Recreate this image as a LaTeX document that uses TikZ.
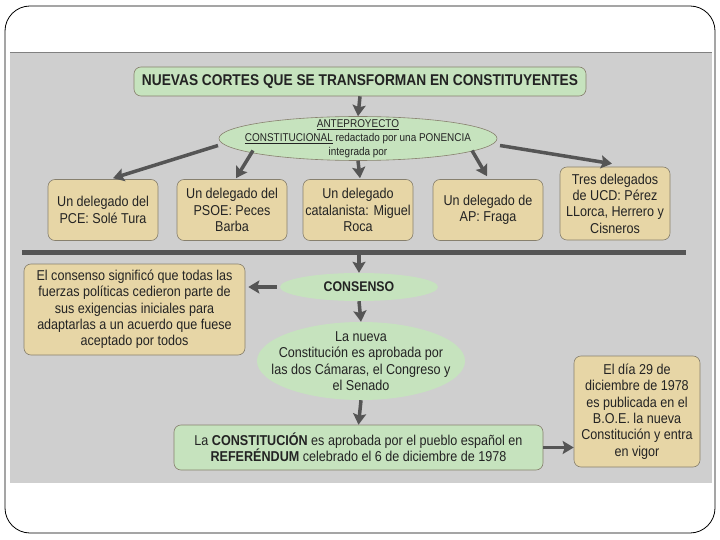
\documentclass[tikz,border=0pt]{standalone}
\usepackage{fontspec}
\setmainfont{Liberation Sans}[FakeStretch=0.88]
\usetikzlibrary{shapes.geometric,arrows.meta,calc}
\definecolor{bgray}{RGB}{207,207,207}
\definecolor{lgreen}{RGB}{198,227,190}
\definecolor{tan}{RGB}{231,214,166}
\definecolor{bordc}{RGB}{135,128,110}
\definecolor{arrc}{RGB}{85,85,85}
\definecolor{txtc}{RGB}{35,35,35}
\tikzset{
  arr/.style={draw=arrc, line width=3.5pt, -{Stealth[length=11pt,width=13pt,inset=2pt]}},
  gbox/.style={rectangle, rounded corners=7pt, fill=lgreen, draw=bordc, line width=0.6pt, align=center, inner sep=0pt, text=txtc},
  tbox/.style={rectangle, rounded corners=7pt, fill=tan, draw=bordc, line width=0.6pt, align=center, inner sep=0pt, minimum width=110pt, minimum height=61pt, text=txtc},
  gell/.style={ellipse, fill=lgreen, align=center, inner xsep=-60pt, inner ysep=-12pt, text=txtc},
  txt/.style={font=\fontsize{14.3}{16.3}\selectfont}
}
\begin{document}
\begin{tikzpicture}[x=1pt,y=-1pt]
\useasboundingbox (0,0) rectangle (720,540);
\fill[white] (0,0) rectangle (720,540);
\draw[black, line width=0.8pt, rounded corners=25pt] (5,6) rectangle (715,533);
\fill[bgray] (10,52) rectangle (712,483);
\draw[gray, line width=0.6pt] (10,52) -- (712,52);

\node[gbox, minimum width=452pt, minimum height=29pt, font=\fontsize{15.6}{18}\selectfont\bfseries] (title) at (360,81.5) {NUEVAS CORTES QUE SE TRANSFORMAN EN CONSTITUYENTES};
\node[gell, draw=bordc, line width=0.6pt, minimum width=278pt, minimum height=44pt, font=\fontsize{11.3}{14}\selectfont] (ell1) at (358,138.5) {\underline{ANTEPROYECTO}\\\underline{CONSTITUCIONAL} redactado por una PONENCIA\\integrada por};

\node[tbox, txt] (b1) at (103,210) {Un delegado del\\PCE: Solé Tura};
\node[tbox, txt] (b2) at (232,210) {Un delegado del\\PSOE: Peces\\Barba};
\node[tbox, txt] (b3) at (358,210) {Un delegado\\catalanista: Miguel\\Roca};
\node[tbox, txt] (b4) at (488,210) {Un delegado de\\AP: Fraga};
\node[tbox, txt, minimum height=73pt] (b5) at (615,203.5) {Tres delegados\\de UCD: Pérez\\LLorca, Herrero y\\Cisneros};

\draw[arr] (title.south) -- (ell1.north);
\draw[arr] ($(ell1.center)+(-140,7)$) -- ($(b1.north)+(10,-1)$);
\draw[arr] ($(ell1.center)+(-105,12)$) -- ($(b2.north)+(4,-1)$);
\draw[arr] (ell1.south) -- ($(b3.north)+(2,-1)$);
\draw[arr] ($(ell1.center)+(114,12)$) -- ($(b4.north)+(-1,-3)$);
\draw[arr] ($(ell1.center)+(142,7)$) -- ($(b5.north)+(-3,-3)$);

\coordinate (sepL) at (22,252);
\coordinate (sepR) at (686,252);
\draw[arrc, line width=5pt] (sepL) -- (sepR);

\node[gell, minimum width=158pt, minimum height=28pt, font=\fontsize{14}{16}\selectfont\bfseries] (cons) at (359,287) {CONSENSO};
\node[tbox, txt, minimum width=221pt, minimum height=91pt] (left) at (134.5,309.5) {El consenso significó que todas las\\fuerzas políticas cedieron parte de\\sus exigencias iniciales para\\adaptarlas a un acuerdo que fuese\\aceptado por todos};
\node[gell, txt, minimum width=208pt, minimum height=78pt] (ell2) at (361,361) {La nueva\\Constitución es aprobada por\\las dos Cámaras, el Congreso y\\el Senado};
\node[gbox, txt, minimum width=369pt, minimum height=45pt] (bot) at (358.5,447.5) {La \textbf{CONSTITUCIÓN} es aprobada por el pueblo español en\\\textbf{REFERÉNDUM} celebrado el 6 de diciembre de 1978};
\node[tbox, txt, minimum width=126pt, minimum height=111pt] (right) at (637,411.5) {El día 29 de\\diciembre de 1978\\es publicada en el\\B.O.E. la nueva\\Constitución y entra\\en vigor};

\coordinate (sepM) at ($(cons.north)+(0,-19)$);
\draw[arr] (sepM) -- (cons.north);
\draw[arr] ($(cons.west)+(-3,0)$) -- ($(left.east |- cons.west)+(3,0)$);
\draw[arr] (cons.south) -- (ell2.north);
\draw[arr] (ell2.south) -- (bot.north);
\draw[arr] (bot.east) -- (right.west |- bot.east);
\end{tikzpicture}
\end{document}
